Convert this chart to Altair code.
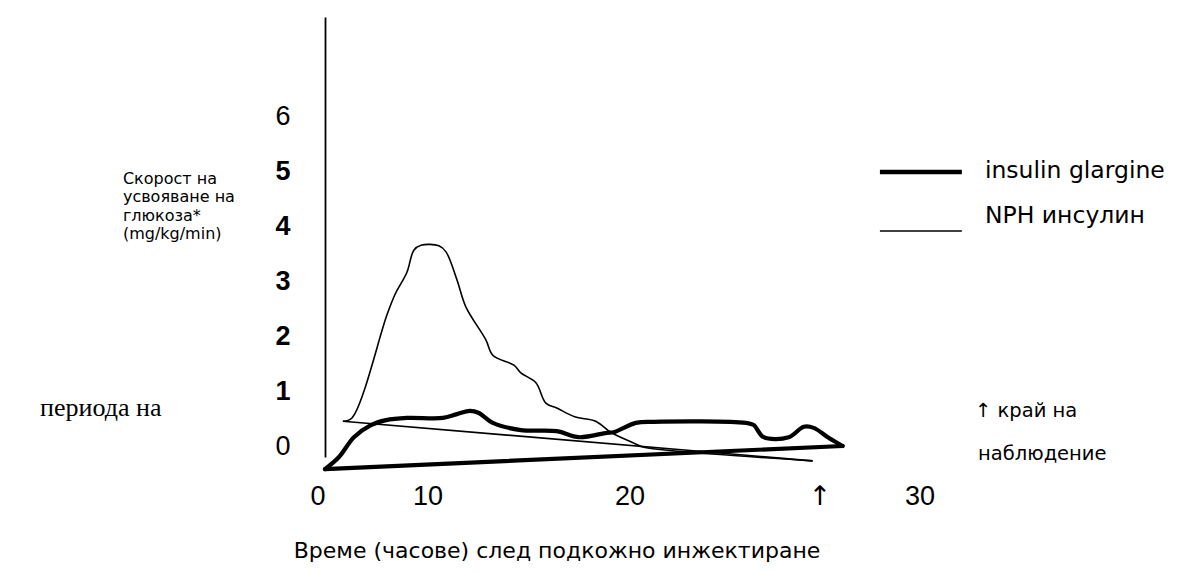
import altair as alt
import pandas as pd

# ---------------- data ----------------
# insulin glargine (thick line): time in hours, glucose utilisation rate
glargine_t = [0.0, 0.65, 1.34, 2.13, 2.83, 3.8, 5.47, 6.12, 6.72, 7.14, 7.78, 9.08, 10.75,
              11.77, 13.07, 13.39, 14.41, 15.25, 19.51, 19.88, 20.34, 21.5, 22.2, 22.66, 23.35, 24.0]
glargine_v = [-0.42, -0.2, 0.16, 0.38, 0.47, 0.51, 0.51, 0.58, 0.64, 0.6, 0.42, 0.29, 0.27,
              0.16, 0.24, 0.25, 0.42, 0.44, 0.42, 0.38, 0.16, 0.16, 0.35, 0.33, 0.15, 0.0]
# straight closing line of the glargine trace
glargine_close_t = [24.0, 0.0]
glargine_close_v = [0.0, -0.42]

# NPH insulin (thin line)
nph_t = [0.83, 1.25, 2.87, 3.24, 3.8, 4.12, 4.45, 5.28, 5.61, 6.12, 6.53, 7.46, 7.78, 8.76,
         9.08, 9.78, 10.24, 10.75, 11.58, 12.55, 13.25, 14.23, 14.74, 16.22, 22.61]
nph_v = [0.45, 0.51, 2.38, 2.75, 3.16, 3.56, 3.65, 3.64, 3.53, 3.02, 2.53, 1.93, 1.65, 1.47,
         1.33, 1.15, 0.78, 0.69, 0.53, 0.45, 0.25, 0.07, -0.02, -0.09, -0.27]
# straight closing line of the NPH trace
nph_close_t = [22.61, 0.83]
nph_close_v = [-0.27, 0.45]

# axis ticks and labels
y_ticks = [0, 1, 2, 3, 4, 5, 6]
x_tick_labels = ["0", "10", "20", "30"]
x_tick_pos = [-0.32, 4.78, 14.14, 27.59]   # where the scan prints them
x_tick_level = -0.93
x_arrow_label = "\u2191"
x_arrow_pos = 22.95

y_title_lines = ["Скорост на", "усвояване на", "глюкоза*", "(mg/kg/min)"]
y_title_v = [4.85, 4.52, 4.19, 3.85]
y_title_t = -9.37

x_title = "Време (часове) след подкожно инжектиране"

legend_labels = ["insulin glargine", "NPH инсулин"]
legend_line_v = [4.98, 3.91]
legend_text_v = [5.0, 4.18]
legend_widths = [4.5, 1.6]

side_left_text = "периода на"
side_right_texts = ["\u2191 край на", "наблюдение"]
side_right_t = [30.14, 30.28]
side_right_v = [0.64, -0.15]

# ---------------- helpers ----------------
X_DOMAIN = [0, 30]
Y_DOMAIN = [-0.2, 7.8]
xs = alt.Scale(domain=X_DOMAIN, nice=False, zero=False)
ys = alt.Scale(domain=Y_DOMAIN, nice=False, zero=False)


def X(field):
    return alt.X(f"{field}:Q", scale=xs, axis=None)


def Y(field):
    return alt.Y(f"{field}:Q", scale=ys, axis=None)


def trace(t, v, ct, cv):
    rows = [{"t": a, "v": b, "seg": "curve", "o": i} for i, (a, b) in enumerate(zip(t, v))]
    rows += [{"t": a, "v": b, "seg": "close", "o": i} for i, (a, b) in enumerate(zip(ct, cv))]
    return pd.DataFrame(rows)


glargine_df = trace(glargine_t, glargine_v, glargine_close_t, glargine_close_v)
nph_df = trace(nph_t, nph_v, nph_close_t, nph_close_v)

yaxis = alt.Axis(
    values=y_ticks, ticks=False, tickSize=0, grid=False, domain=True,
    domainColor="black", domainWidth=1.8, labelFont="Liberation Sans",
    labelFontSize=27, labelColor="black", labelPadding=35, title=None,
    labelFontWeight={"condition": {"test": "datum.value == 0 || datum.value == 6",
                                   "value": "normal"}, "value": "bold"},
)

glargine = alt.Chart(glargine_df).mark_line(
    color="black", strokeWidth=4.2, interpolate="catmull-rom", strokeJoin="round", strokeCap="round"
).encode(
    x=X("t"), y=alt.Y("v:Q", scale=ys, axis=yaxis), detail="seg:N", order="o:Q"
)

nph = alt.Chart(nph_df).mark_line(
    color="black", strokeWidth=1.6, interpolate="catmull-rom"
).encode(x=X("t"), y=Y("v"), detail="seg:N", order="o:Q")

# legend
leg_df = pd.DataFrame({
    "label": legend_labels, "lv": legend_line_v, "tv": legend_text_v, "w": legend_widths,
    "t1": [25.73] * 2, "t2": [29.53] * 2, "tt": [30.6] * 2,
})
leg_lines = alt.Chart(leg_df).mark_rule(color="black").encode(
    x=X("t1"), x2="t2:Q", y=Y("lv"),
    strokeWidth=alt.StrokeWidth("w:Q", scale=None, legend=None),
)
leg_text = alt.Chart(leg_df).mark_text(
    align="left", baseline="middle", font="DejaVu Sans", fontSize=23.5, color="black"
).encode(x=X("tt"), y=Y("tv"), text="label:N")

# x tick labels
xt_df = pd.DataFrame({"label": x_tick_labels, "t": x_tick_pos, "v": [x_tick_level] * len(x_tick_pos)})
xticks = alt.Chart(xt_df).mark_text(
    align="center", baseline="middle", font="Liberation Sans", fontSize=27, color="black"
).encode(x=X("t"), y=Y("v"), text="label:N")

xarrow = alt.Chart(pd.DataFrame({"label": [x_arrow_label], "t": [x_arrow_pos], "v": [x_tick_level]})).mark_text(
    align="center", baseline="middle", font="DejaVu Sans", fontSize=27, color="black"
).encode(x=X("t"), y=Y("v"), text="label:N")

# x title
xtitle = alt.Chart(pd.DataFrame({"label": [x_title], "t": [10.76], "v": [-1.9]})).mark_text(
    align="center", baseline="middle", font="DejaVu Sans", fontSize=22, color="black"
).encode(x=X("t"), y=Y("v"), text="label:N")

# y title (4 lines)
yt_df = pd.DataFrame({"label": y_title_lines, "t": [y_title_t] * 4, "v": y_title_v})
ytitle = alt.Chart(yt_df).mark_text(
    align="left", baseline="middle", font="DejaVu Sans", fontSize=16, color="black"
).encode(x=X("t"), y=Y("v"), text="label:N")

# side texts
left_txt = alt.Chart(pd.DataFrame({"label": [side_left_text], "t": [-13.21], "v": [0.69]})).mark_text(
    align="left", baseline="middle", font="Liberation Serif", fontSize=26, color="black"
).encode(x=X("t"), y=Y("v"), text="label:N")

right_txt = alt.Chart(pd.DataFrame({"label": side_right_texts, "t": side_right_t, "v": side_right_v})).mark_text(
    align="left", baseline="middle", font="DejaVu Sans", fontSize=19.5, color="black"
).encode(x=X("t"), y=Y("v"), text="label:N")

chart = alt.layer(
    glargine, nph, leg_lines, leg_text, xticks, xarrow, xtitle, ytitle, left_txt, right_txt
).resolve_axis(
    x="independent", y="independent"
).properties(
    width=647, height=440,
    autosize=alt.AutoSizeParams(type="none"),
    padding={"left": 317, "top": 9, "right": 198, "bottom": 115},
).configure(background="white").configure_view(stroke=None)

chart.save("out.html", embed_options={"renderer": "svg", "actions": False})
